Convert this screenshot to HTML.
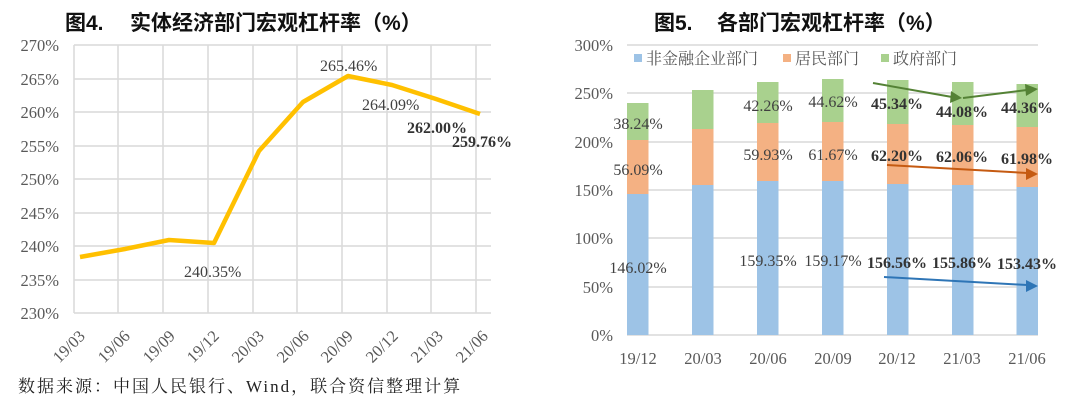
<!DOCTYPE html>
<html><head><meta charset="utf-8"><style>
html,body{margin:0;padding:0;background:#fff;}
svg{display:block;}
text{font-family:"Liberation Serif","Noto Serif CJK SC",serif;}
.t{font-family:"Liberation Sans","Noto Sans CJK SC",sans-serif;font-weight:bold;font-size:21px;fill:#111;}
.ax{font-size:16.5px;fill:#595959;}
.lg{font-size:16px;fill:#595959;}
.lb{font-size:16px;fill:#404040;}
.bd{font-size:16px;fill:#333;font-weight:bold;}
</style></head><body>
<svg width="1080" height="406" viewBox="0 0 1080 406" xmlns="http://www.w3.org/2000/svg">
<text class="t" x="65" y="30">图4.</text>
<text class="t" x="130" y="30">实体经济部门宏观杠杆率（%）</text>
<g stroke="#d9d9d9" stroke-width="1.5">
<line x1="74" y1="45" x2="491" y2="45"/><line x1="74" y1="79" x2="491" y2="79"/><line x1="74" y1="112" x2="491" y2="112"/><line x1="74" y1="146" x2="491" y2="146"/><line x1="74" y1="179" x2="491" y2="179"/><line x1="74" y1="213" x2="491" y2="213"/><line x1="74" y1="246" x2="491" y2="246"/><line x1="74" y1="280" x2="491" y2="280"/><line x1="74" y1="313" x2="491" y2="313"/>
<line x1="74" y1="45" x2="74" y2="313"/><line x1="118" y1="45" x2="118" y2="313"/><line x1="163" y1="45" x2="163" y2="313"/><line x1="208" y1="45" x2="208" y2="313"/><line x1="253" y1="45" x2="253" y2="313"/><line x1="297" y1="45" x2="297" y2="313"/><line x1="342" y1="45" x2="342" y2="313"/><line x1="387" y1="45" x2="387" y2="313"/><line x1="431" y1="45" x2="431" y2="313"/><line x1="476" y1="45" x2="476" y2="313"/>
</g>
<g class="ax" text-anchor="end">
<text x="59" y="51">270%</text><text x="59" y="85">265%</text><text x="59" y="118">260%</text><text x="59" y="152">255%</text><text x="59" y="185">250%</text><text x="59" y="219">245%</text><text x="59" y="252">240%</text><text x="59" y="286">235%</text><text x="59" y="319">230%</text>
</g>
<g class="ax" text-anchor="end">
<text transform="translate(86,337) rotate(-45)">19/03</text>
<text transform="translate(131,337) rotate(-45)">19/06</text>
<text transform="translate(176,337) rotate(-45)">19/09</text>
<text transform="translate(220,337) rotate(-45)">19/12</text>
<text transform="translate(265,337) rotate(-45)">20/03</text>
<text transform="translate(310,337) rotate(-45)">20/06</text>
<text transform="translate(354,337) rotate(-45)">20/09</text>
<text transform="translate(399,337) rotate(-45)">20/12</text>
<text transform="translate(444,337) rotate(-45)">21/03</text>
<text transform="translate(489,337) rotate(-45)">21/06</text>
</g>
<polyline fill="none" stroke="#ffc000" stroke-width="4.5" stroke-linejoin="round" points="80,257 125,249 169,240 214,243 259,151 303,102 348,76 392,85 436,99 480,114"/>
<text class="lb" x="320" y="71">265.46%</text>
<text class="lb" x="362" y="110">264.09%</text>
<text class="bd" x="407" y="133">262.00%</text>
<text class="bd" x="452" y="147">259.76%</text>
<text class="lb" x="184" y="277">240.35%</text>
<text x="18" y="392" style="font-size:17px;fill:#222;letter-spacing:2px;">数据来源：中国人民银行、Wind，联合资信整理计算</text>

<text class="t" x="654" y="30">图5.</text>
<text class="t" x="717" y="30">各部门宏观杠杆率（%）</text>
<g stroke="#d9d9d9" stroke-width="1.5">
<line x1="627" y1="45" x2="1038" y2="45"/><line x1="627" y1="93" x2="1038" y2="93"/><line x1="627" y1="142" x2="1038" y2="142"/><line x1="627" y1="190" x2="1038" y2="190"/><line x1="627" y1="238" x2="1038" y2="238"/><line x1="627" y1="287" x2="1038" y2="287"/><line x1="627" y1="335" x2="1038" y2="335"/>
</g>
<g class="ax" text-anchor="end">
<text x="613" y="51">300%</text><text x="613" y="99">250%</text><text x="613" y="148">200%</text><text x="613" y="196">150%</text><text x="613" y="244">100%</text><text x="613" y="293">50%</text><text x="613" y="341">0%</text>
</g>
<g class="ax" text-anchor="middle">
<text x="638" y="364">19/12</text><text x="703" y="364">20/03</text><text x="768" y="364">20/06</text><text x="833" y="364">20/09</text><text x="897" y="364">20/12</text><text x="962" y="364">21/03</text><text x="1027" y="364">21/06</text>
</g>
<g>
<rect x="627" y="194" width="21.5" height="141" fill="#9dc3e6"/><rect x="627" y="140" width="21.5" height="54" fill="#f4b183"/><rect x="627" y="103" width="21.5" height="37" fill="#a9d18e"/>
<rect x="692" y="185" width="21.5" height="150" fill="#9dc3e6"/><rect x="692" y="129" width="21.5" height="56" fill="#f4b183"/><rect x="692" y="90" width="21.5" height="39" fill="#a9d18e"/>
<rect x="757" y="181" width="21.5" height="154" fill="#9dc3e6"/><rect x="757" y="123" width="21.5" height="58" fill="#f4b183"/><rect x="757" y="82" width="21.5" height="41" fill="#a9d18e"/>
<rect x="822" y="181" width="21.5" height="154" fill="#9dc3e6"/><rect x="822" y="122" width="21.5" height="59" fill="#f4b183"/><rect x="822" y="79" width="21.5" height="43" fill="#a9d18e"/>
<rect x="887" y="184" width="21.5" height="151" fill="#9dc3e6"/><rect x="887" y="124" width="21.5" height="60" fill="#f4b183"/><rect x="887" y="80" width="21.5" height="44" fill="#a9d18e"/>
<rect x="952" y="185" width="21.5" height="150" fill="#9dc3e6"/><rect x="952" y="125" width="21.5" height="60" fill="#f4b183"/><rect x="952" y="82" width="21.5" height="43" fill="#a9d18e"/>
<rect x="1016.5" y="187" width="21.5" height="148" fill="#9dc3e6"/><rect x="1016.5" y="127" width="21.5" height="60" fill="#f4b183"/><rect x="1016.5" y="84" width="21.5" height="43" fill="#a9d18e"/>
</g>
<rect x="634" y="54" width="8" height="8" fill="#9dc3e6"/><text class="lg" x="646" y="64">非金融企业部门</text>
<rect x="783" y="54" width="8" height="8" fill="#f4b183"/><text class="lg" x="795" y="64">居民部门</text>
<rect x="881" y="54" width="8" height="8" fill="#a9d18e"/><text class="lg" x="893" y="64">政府部门</text>
<g class="lb" text-anchor="middle">
<text x="638" y="129">38.24%</text><text x="638" y="175">56.09%</text><text x="638" y="273">146.02%</text>
<text x="768" y="111">42.26%</text><text x="768" y="160">59.93%</text><text x="768" y="266">159.35%</text>
<text x="833" y="107">44.62%</text><text x="833" y="160">61.67%</text><text x="833" y="266">159.17%</text>
</g>
<g class="bd" text-anchor="middle">
<text x="897" y="109">45.34%</text><text x="897" y="161">62.20%</text><text x="897" y="268">156.56%</text>
<text x="962" y="117">44.08%</text><text x="962" y="162">62.06%</text><text x="962" y="268">155.86%</text>
<text x="1027" y="113">44.36%</text><text x="1027" y="164">61.98%</text><text x="1027" y="269">153.43%</text>
</g>
<g stroke-width="2" fill="none">
<line x1="873" y1="83" x2="952" y2="97" stroke="#548235"/>
<line x1="963" y1="98" x2="1027" y2="90" stroke="#548235"/>
<line x1="887" y1="165" x2="1027" y2="173" stroke="#c55a11"/>
<line x1="884" y1="277" x2="1027" y2="285" stroke="#2e75b6"/>
</g>
<polygon points="951,91 962,98 950,103" fill="#548235"/>
<polygon points="1025,84 1038,89 1026,96" fill="#548235"/>
<polygon points="1026,168 1038,174 1026,180" fill="#c55a11"/>
<polygon points="1026,280 1038,286 1026,292" fill="#2e75b6"/>
</svg>
</body></html>
